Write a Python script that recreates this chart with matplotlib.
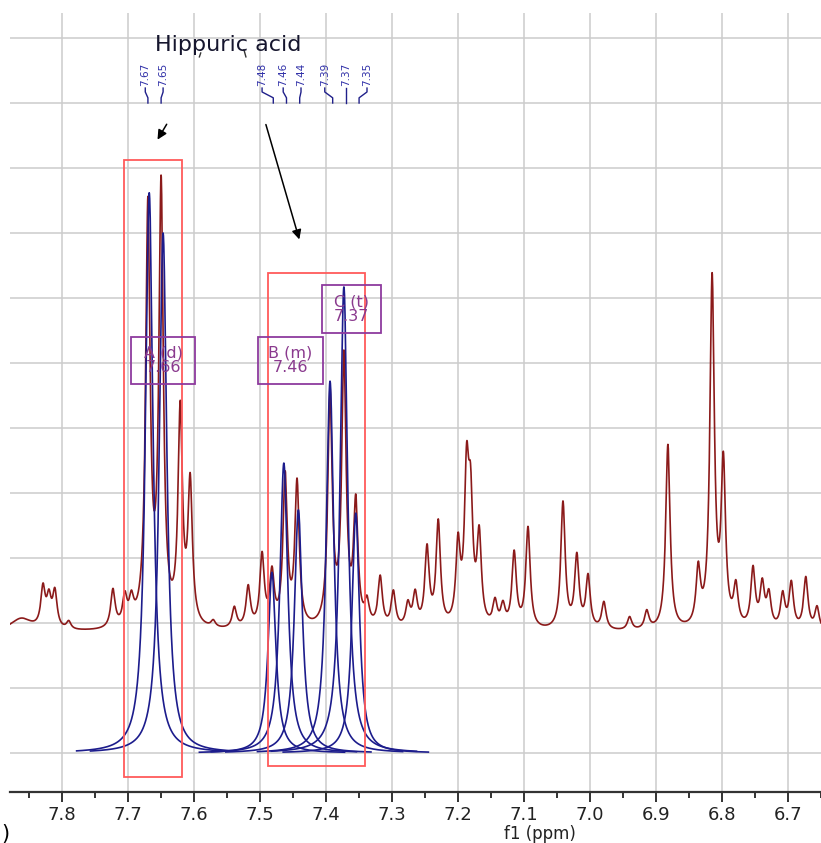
import matplotlib.pyplot as plt
import numpy as np
from matplotlib.patches import Rectangle

# fitted multiplet components: centre (ppm), height, half width
fit_ppm = [7.668, 7.647, 7.482, 7.464, 7.442, 7.394, 7.373, 7.355]
fit_height = [8.62, 8.00, 2.78, 4.46, 3.74, 5.72, 7.17, 3.69]
fit_hw = [0.0068, 0.0068, 0.0072, 0.0072, 0.0072, 0.0068, 0.0068, 0.0068]

# experimental spectrum, as a peak list on top of a flat baseline
spec_base = 1.85
spec_ppm = [7.862, 7.829, 7.820, 7.811, 7.790, 7.723, 7.705, 7.695,
            7.670, 7.650, 7.621, 7.606, 7.571, 7.539, 7.518, 7.497,
            7.482, 7.462, 7.444, 7.394, 7.373, 7.355, 7.338, 7.318,
            7.298, 7.276, 7.265, 7.247, 7.230, 7.200, 7.187, 7.181,
            7.168, 7.144, 7.132, 7.115, 7.094, 7.041, 7.020, 7.003,
            6.979, 6.940, 6.914, 6.882, 6.836, 6.815, 6.798, 6.779,
            6.753, 6.739, 6.729, 6.708, 6.695, 6.673, 6.656]
spec_amp = [0.20, 0.60, 0.43, 0.55, 0.12, 0.58, 0.43, 0.35,
            6.40, 6.70, 3.25, 2.15, 0.10, 0.32, 0.63, 1.10,
            0.80, 2.30, 2.20, 3.55, 4.10, 1.85, 0.35, 0.77,
            0.55, 0.35, 0.50, 1.20, 1.60, 1.20, 2.20, 1.70,
            1.35, 0.38, 0.32, 1.15, 1.55, 1.95, 1.10, 0.80,
            0.42, 0.20, 0.28, 2.85, 0.85, 5.35, 2.45, 0.60,
            0.90, 0.65, 0.50, 0.52, 0.70, 0.80, 0.35]
spec_hw = [0.020] + [0.004] * 54

peak_text = ['7.67', '7.65', '7.48', '7.46', '7.44', '7.39', '7.37', '7.35']
mult_name = ['A (d)', 'B (m)', 'C (t)']
mult_shift = [7.66, 7.46, 7.37]

# layout of annotations (ppm / intensity units)
label_x = [7.674, 7.647, 7.497, 7.465, 7.438, 7.402, 7.370, 7.338]
mult_box = [(7.5985, 7.6955, 5.677, 6.40), (7.4045, 7.503, 5.677, 6.40),
            (7.3167, 7.406, 6.46, 7.20)]
range_box = [(7.618, 7.706, -0.37, 9.12), (7.341, 7.488, -0.20, 7.38)]

fig = plt.figure(figsize=(8.21, 8.43), dpi=100)
ax = fig.add_axes([10 / 821, 1 - 792 / 843, 811 / 821, 779 / 843])
ax.set_xlim(7.879, 6.65)
ax.set_ylim(-0.6, 11.385)

# grid
ax.set_yticks(np.arange(0, 12))
ax.set_xticks(np.arange(6.7, 7.81, 0.1))
ax.set_xticks(np.arange(6.65, 7.88, 0.05), minor=True)
ax.set_xticklabels(['%.1f' % v for v in np.arange(6.7, 7.81, 0.1)])
ax.grid(True, which='major', color='#cccccc', lw=1.1)
ax.set_axisbelow(True)
ax.tick_params(axis='y', length=0, labelleft=False)
ax.tick_params(axis='x', which='major', length=7, width=1.3, color='#222222',
               labelsize=13, labelcolor='#222222', pad=3)
ax.tick_params(axis='x', which='minor', length=4, width=1.3, color='#222222')
for s in ['top', 'left', 'right']:
    ax.spines[s].set_visible(False)
ax.spines['bottom'].set_color('#333333')
ax.spines['bottom'].set_linewidth(1.6)

# experimental spectrum
xs = np.linspace(6.65, 7.879, 8000)
ys = np.full_like(xs, spec_base)
for c, a, w in zip(spec_ppm, spec_amp, spec_hw):
    ys += a / (1 + ((xs - c) / w) ** 2)
ax.plot(xs, ys, color='#8b1a1a', lw=1.2)

# fitted lorentzians, each drawn on its own
for c, h, w in zip(fit_ppm, fit_height, fit_hw):
    xf = np.linspace(c - 0.11, c + 0.11, 2000)
    ax.plot(xf, h / (1 + ((xf - c) / w) ** 2), color='#1c1c8c', lw=1.2)

# integration ranges
for x0, x1, y0, y1 in range_box:
    ax.add_patch(Rectangle((x0, y0), x1 - x0, y1 - y0, fill=False,
                           ec='#ff5a5a', lw=1.3, zorder=4))

# multiplet labels
for (x0, x1, y0, y1), name, sh in zip(mult_box, mult_name, mult_shift):
    ax.add_patch(Rectangle((x0, y0), x1 - x0, y1 - y0, fill=False,
                           ec='#8e3a9e', lw=1.3, zorder=5))
    ax.text((x0 + x1) / 2, (y0 + y1) / 2, '%s\n%.2f' % (name, sh),
            ha='center', va='center', fontsize=11.5, color='#8a3a8e',
            linespacing=0.95, zorder=6)

# peak picking labels with leaders
for lx, t in zip(label_x, peak_text):
    pk = float(t)
    ax.text(lx, 10.26, t, rotation=90, ha='center', va='bottom',
            fontsize=7.5, color='#3030a8')
    ax.plot([lx, lx, pk, pk], [10.23, 10.17, 10.08, 10.0],
            color='#20208a', lw=1.0)

ax.text(7.5485, 10.9, 'Hippuric acid', ha='center', va='center',
        fontsize=16, color='#16162e')
ax.plot([7.590, 7.592], [10.77, 10.71], color='#333333', lw=1)
ax.plot([7.5245, 7.5215], [10.82, 10.71], color='#333333', lw=1)

ax.annotate('', xy=(7.6576, 9.40), xytext=(7.6394, 9.71),
            arrowprops=dict(arrowstyle='-|>', color='k', lw=1.1,
                            mutation_scale=14))
ax.annotate('', xy=(7.4394, 7.86), xytext=(7.4924, 9.71),
            arrowprops=dict(arrowstyle='-|>', color='k', lw=1.1,
                            mutation_scale=14))

fig.text(540 / 821, 1 - 834 / 843, 'f1 (ppm)', ha='center', va='center',
         fontsize=12, color='#222222')
fig.text(0.002, 1 - 834 / 843, ')', ha='left', va='center', fontsize=15)

fig.savefig('out.png', dpi=100)
